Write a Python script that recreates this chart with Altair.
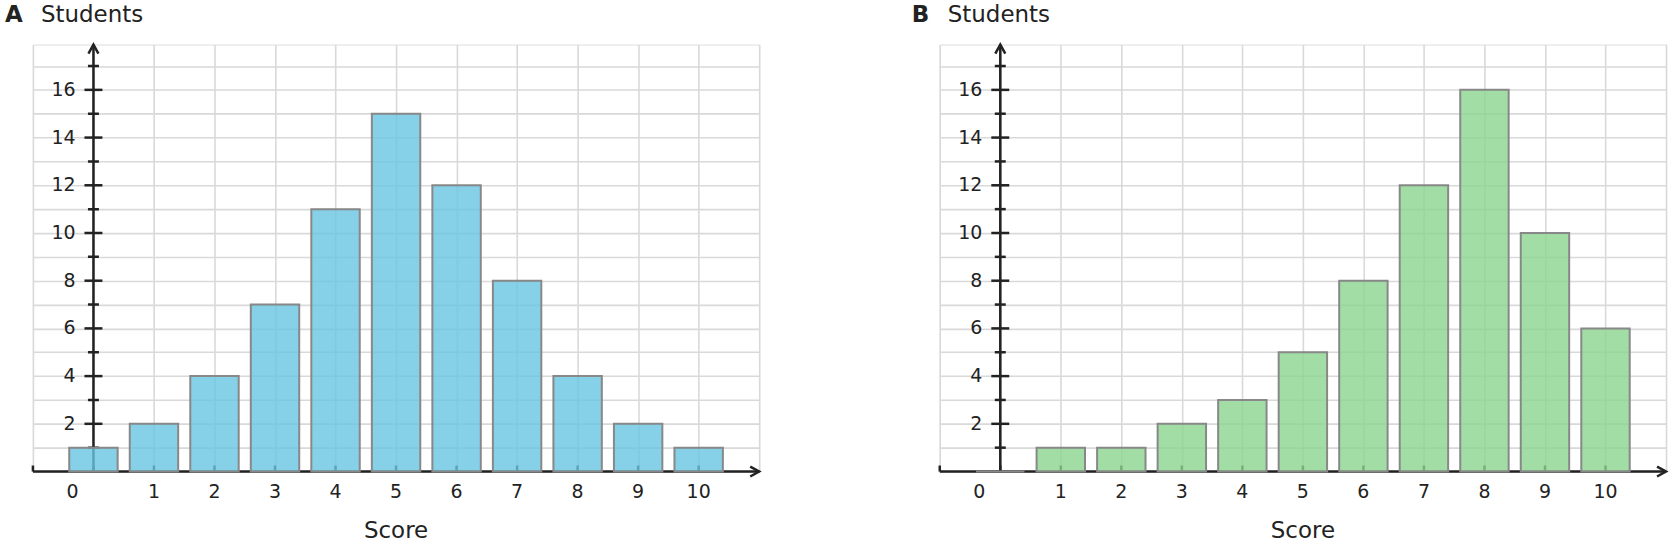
import altair as alt
import pandas as pd

# ---- data ----
scores = list(range(11))
students_a = [1, 2, 4, 7, 11, 15, 12, 8, 4, 2, 1]
students_b = [0, 1, 1, 2, 3, 5, 8, 12, 16, 10, 6]
x_label_values = list(range(1, 11))
y_label_values = [2, 4, 6, 8, 10, 12, 14, 16]
y_minor_values = [1, 3, 5, 7, 9, 11, 13, 15, 17]
x_tick_values = list(range(-1, 11))
x_grid_values = list(range(-1, 12))
y_grid_values = list(range(0, 18))
panel_letters = ["A", "B"]
y_title = "Students"
x_title = "Score"

X_MIN, X_MAX = -1, 11
Y_MIN, Y_MAX = 0, 17.9
BAR_HALF = 0.4

W, H = 728, 428
GRID = "#d9d9d9"
INK = "#222222"
FONT = "DejaVu Sans"
fills = ["#68C4E2", "#8BD590"]


def panel(letter, values, color):
    xs = alt.Scale(domain=[X_MIN, X_MAX], nice=False, zero=False)
    ys = alt.Scale(domain=[Y_MIN, Y_MAX], nice=False, zero=False)
    xaxis = alt.Axis(values=x_grid_values, grid=True, labels=False, ticks=False,
                     domain=False, title=None, gridColor=GRID, gridWidth=1.6)
    yaxis = alt.Axis(values=y_grid_values, grid=True, labels=False, ticks=False,
                     domain=False, title=None, gridColor=GRID, gridWidth=1.6)

    def X(f):
        return alt.X(f, type="quantitative", scale=xs, axis=xaxis)

    def Y(f):
        return alt.Y(f, type="quantitative", scale=ys, axis=yaxis)

    bars_df = pd.DataFrame({"score": scores, "students": values})
    bars_df["x0"] = bars_df["score"] - BAR_HALF
    bars_df["x1"] = bars_df["score"] + BAR_HALF
    bars_df["base"] = 0

    axes_df = pd.DataFrame({"x0": [0, X_MIN], "x1": [0, X_MAX],
                            "y0": [Y_MIN, 0], "y1": [Y_MAX, 0]})
    arrows_df = pd.DataFrame({"x": [0, X_MAX], "y": [Y_MAX, 0],
                              "shape": ["M-1,1.8L0,0L1,1.8", "M-1.8,-1L0,0L-1.8,1"]})
    ymaj_df = pd.DataFrame({"x": 0, "y": y_label_values})
    ymin_df = pd.DataFrame({"x": 0, "y": y_minor_values})
    xt_df = pd.DataFrame({"x": x_tick_values, "y": 0})
    xl_df = pd.DataFrame({"x": x_label_values, "y": 0})
    zero_df = pd.DataFrame({"x": [0], "y": [0], "t": ["0"]})
    one = pd.DataFrame({"a": [0]})

    axis_lines = alt.Chart(axes_df).mark_rule(color=INK, strokeWidth=2.5).encode(
        x=X("x0"), x2="x1", y=Y("y0"), y2="y1")
    arrows = alt.Chart(arrows_df).mark_point(filled=False, size=100, strokeWidth=2.5,
                                             color=INK, opacity=1).encode(
        x=X("x"), y=Y("y"), shape=alt.Shape("shape:N", scale=None, legend=None))
    ymaj = alt.Chart(ymaj_df).mark_tick(orient="horizontal", size=18, thickness=2.5,
                                        color=INK, opacity=1).encode(x=X("x"), y=Y("y"))
    ymin = alt.Chart(ymin_df).mark_tick(orient="horizontal", size=11, thickness=2.5,
                                        color=INK, opacity=1).encode(x=X("x"), y=Y("y"))
    xt = alt.Chart(xt_df).mark_tick(orient="vertical", size=6, thickness=2.5, yOffset=-3,
                                    color=INK, opacity=1).encode(x=X("x"), y=Y("y"))
    bars = alt.Chart(bars_df).mark_bar(fill=color, fillOpacity=0.8, stroke="#888888",
                                       strokeWidth=2).encode(
        x=X("x0"), x2="x1", y=Y("students"), y2="base")
    ylab = alt.Chart(ymaj_df).mark_text(align="right", baseline="middle", dx=-18,
                                        fontSize=19, color=INK, font=FONT).encode(
        x=X("x"), y=Y("y"), text="y:Q")
    xlab = alt.Chart(xl_df).mark_text(align="center", baseline="middle", dy=21,
                                      fontSize=19, color=INK, font=FONT).encode(
        x=X("x"), y=Y("y"), text="x:Q")
    zlab = alt.Chart(zero_df).mark_text(align="center", baseline="middle", dy=21, dx=-21,
                                        fontSize=19, color=INK, font=FONT).encode(
        x=X("x"), y=Y("y"), text="t:N")
    xtitle = alt.Chart(one).mark_text(align="center", baseline="alphabetic", fontSize=23,
                                      color=INK, font=FONT, text=x_title).encode(
        x=alt.value(W / 2), y=alt.value(H + 67))
    head_letter = alt.Chart(one).mark_text(align="left", baseline="alphabetic", fontSize=23,
                                           fontWeight="bold", color=INK, font=FONT,
                                           text=letter).encode(
        x=alt.value(-28), y=alt.value(-23))
    head_title = alt.Chart(one).mark_text(align="left", baseline="alphabetic", fontSize=23,
                                          color=INK, font=FONT, text=y_title).encode(
        x=alt.value(8), y=alt.value(-23))

    return alt.layer(axis_lines, arrows, ymaj, ymin, xt, bars, ylab, xlab, zlab,
                     xtitle, head_letter, head_title).properties(width=W, height=H)


chart = alt.hconcat(
    panel(panel_letters[0], students_a, fills[0]),
    panel(panel_letters[1], students_b, fills[1]),
    spacing=181, bounds="flush",
).properties(
    padding={"left": 4, "top": 2, "right": 0, "bottom": 0},
    background="white",
).configure_view(stroke=GRID, strokeWidth=1.6).configure(font=FONT)

chart.save("out.html", embed_options={"renderer": "svg", "actions": False})
